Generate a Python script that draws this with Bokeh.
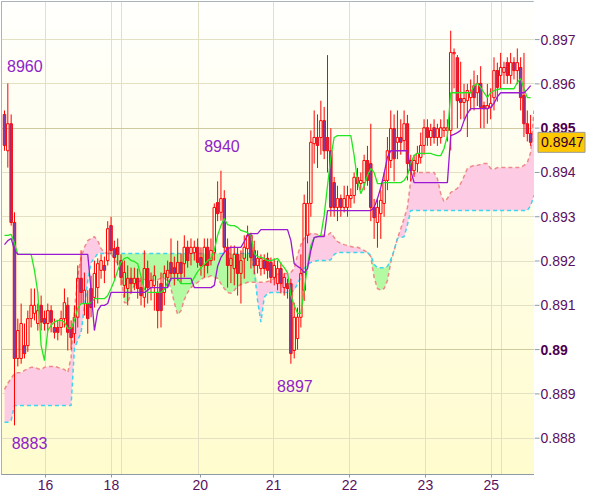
import numpy as np
from bokeh.plotting import figure
from bokeh.layouts import row
from bokeh.models import Range1d, FixedTicker, Grid, CustomJSTickFormatter
from bokeh.core.properties import value
from bokeh.embed import file_html
from bokeh.resources import INLINE

# ---------------- data (prices in 1e-5 units) ----------------
open_ = [
    89531, 89449, 89510, 89287, 88980, 88980, 89009, 89009, 89070, 89082,
    89059, 89100, 89070, 89059, 89088, 89050, 89050, 89050, 89070, 89100,
    89050, 89036, 89073, 89161, 89104, 89104, 89138, 89118, 89140, 89179,
    89190, 89201, 89280, 89228, 89231, 89201, 89145, 89138, 89161, 89149,
    89161, 89140, 89118, 89183, 89140, 89145, 89129, 89149, 89129, 89163,
    89197, 89185, 89172, 89197, 89194, 89231, 89217, 89219, 89231, 89208,
    89190, 89231, 89201, 89219, 89332, 89310, 89341, 89231, 89190, 89183,
    89215, 89172, 89206, 89228, 89258, 89224, 89190, 89183, 89201, 89206,
    89197, 89163, 89149, 89183, 89140, 89149, 89149, 88998, 89025, 89073,
    89134, 89258, 89330, 89465, 89479, 89479, 89517, 89479, 89449, 89377,
    89321, 89341, 89321, 89321, 89341, 89348, 89389, 89375, 89377, 89427,
    89420, 89321, 89287, 89307, 89330, 89382, 89427, 89499, 89468, 89479,
    89472, 89510, 89427, 89404, 89420, 89434, 89461, 89501, 89479, 89501,
    89479, 89479, 89495, 89495, 89495, 89668, 89659, 89567, 89558, 89562,
    89569, 89596, 89580, 89601, 89551, 89544, 89547, 89569, 89630, 89619,
    89626, 89648, 89619, 89648, 89630, 89637, 89574, 89510, 89488,
]
high = [
    89540, 89601, 89531, 89310, 89070, 89104, 89059, 89088, 89138, 89138,
    89104, 89122, 89088, 89104, 89100, 89070, 89066, 89088, 89138, 89118,
    89066, 89100, 89190, 89224, 89174, 89134, 89167, 89201, 89206, 89215,
    89210, 89290, 89300, 89246, 89251, 89215, 89201, 89190, 89185, 89185,
    89183, 89163, 89224, 89201, 89174, 89190, 89156, 89174, 89190, 89201,
    89251, 89210, 89246, 89217, 89258, 89246, 89251, 89246, 89251, 89231,
    89251, 89251, 89251, 89330, 89380, 89404, 89360, 89251, 89235, 89235,
    89231, 89224, 89258, 89280, 89264, 89246, 89224, 89215, 89215, 89219,
    89208, 89206, 89201, 89197, 89172, 89160, 89160, 89106, 89095, 89215,
    89350, 89380, 89495, 89540, 89531, 89562, 89548, 89665, 89500, 89390,
    89370, 89350, 89370, 89370, 89364, 89400, 89410, 89400, 89440, 89460,
    89510, 89340, 89340, 89360, 89400, 89480, 89540, 89531, 89540, 89520,
    89540, 89530, 89440, 89440, 89460, 89490, 89520, 89520, 89510, 89520,
    89510, 89520, 89540, 89520, 89720, 89680, 89665, 89650, 89600, 89600,
    89610, 89630, 89620, 89640, 89560, 89600, 89590, 89660, 89648, 89670,
    89650, 89660, 89670, 89660, 89680, 89660, 89670, 89540, 89530,
]
low = [
    89449, 89411, 89280, 88829, 88962, 88968, 88980, 88995, 89050, 89066,
    89043, 89043, 89043, 89043, 89039, 89025, 89021, 89032, 89050, 88998,
    89000, 89014, 89050, 89104, 89077, 89036, 89073, 89095, 89104, 89160,
    89150, 89190, 89215, 89160, 89190, 89145, 89118, 89100, 89127, 89134,
    89115, 89100, 89095, 89104, 89111, 89088, 89048, 89050, 89100, 89140,
    89156, 89145, 89156, 89149, 89163, 89185, 89190, 89201, 89185, 89167,
    89163, 89172, 89190, 89201, 89290, 89291, 89219, 89140, 89150, 89145,
    89122, 89104, 89160, 89200, 89183, 89170, 89172, 89167, 89170, 89160,
    89150, 89145, 89134, 89127, 89122, 89115, 88968, 88980, 89000, 89050,
    89110, 89240, 89300, 89420, 89410, 89440, 89430, 89400, 89300, 89300,
    89290, 89300, 89310, 89300, 89320, 89330, 89360, 89360, 89360, 89370,
    89290, 89250, 89230, 89250, 89300, 89360, 89410, 89380, 89430, 89440,
    89450, 89382, 89380, 89390, 89400, 89420, 89440, 89460, 89460, 89465,
    89460, 89465, 89480, 89470, 89450, 89590, 89500, 89520, 89520, 89480,
    89540, 89540, 89550, 89500, 89500, 89510, 89520, 89540, 89560, 89590,
    89600, 89600, 89600, 89610, 89600, 89540, 89480, 89470, 89460,
]
close = [
    89461, 89510, 89287, 88980, 89043, 89059, 88991, 89070, 89100, 89100,
    89088, 89062, 89059, 89088, 89062, 89039, 89039, 89070, 89106, 89039,
    89027, 89073, 89161, 89129, 89134, 89070, 89095, 89172, 89194, 89201,
    89179, 89273, 89224, 89208, 89215, 89163, 89174, 89161, 89149, 89161,
    89138, 89122, 89183, 89140, 89156, 89167, 89088, 89088, 89172, 89179,
    89172, 89172, 89197, 89172, 89231, 89201, 89231, 89231, 89197, 89190,
    89231, 89190, 89224, 89321, 89307, 89341, 89231, 89190, 89206, 89215,
    89172, 89201, 89231, 89258, 89208, 89190, 89206, 89206, 89183, 89179,
    89163, 89190, 89183, 89149, 89163, 89138, 88991, 89073, 89073, 89172,
    89330, 89330, 89468, 89479, 89461, 89517, 89449, 89449, 89321, 89321,
    89341, 89321, 89341, 89348, 89348, 89389, 89375, 89382, 89427, 89382,
    89321, 89298, 89321, 89337, 89382, 89449, 89499, 89431, 89479, 89468,
    89510, 89420, 89404, 89427, 89443, 89461, 89501, 89479, 89495, 89479,
    89499, 89501, 89501, 89501, 89671, 89671, 89562, 89558, 89567, 89585,
    89580, 89569, 89601, 89547, 89544, 89551, 89556, 89630, 89592, 89637,
    89637, 89619, 89648, 89630, 89648, 89569, 89510, 89488, 89468,
]
tenkan = [
    89258, 89258, 89260, 89240, 89215, 89215, 89215, 89215, 89215, 89179,
    89129, 89009, 88975, 89043, 89055, 89062, 89066, 89066, 89062, 89048,
    89048, 89066, 89093, 89104, 89104, 89104, 89106, 89115, 89115, 89115,
    89115, 89122, 89138, 89156, 89179, 89197, 89206, 89208, 89201, 89199,
    89194, 89165, 89136, 89129, 89129, 89129, 89129, 89129, 89136, 89152,
    89161, 89161, 89161, 89149, 89149, 89149, 89149, 89163, 89176, 89185,
    89192, 89201, 89206, 89224, 89258, 89280, 89296, 89282, 89280, 89280,
    89276, 89269, 89267, 89264, 89258, 89217, 89210, 89208, 89206, 89201,
    89201, 89203, 89206, 89194, 89185, 89174, 89122, 89100, 89082, 89082,
    89134, 89190, 89235, 89253, 89255, 89258, 89303, 89370, 89434, 89479,
    89483, 89483, 89483, 89483, 89483, 89438, 89382, 89352, 89370, 89393,
    89409, 89400, 89375, 89375, 89377, 89377, 89377, 89377, 89377, 89377,
    89382, 89393, 89420, 89438, 89443, 89443, 89443, 89443, 89443, 89440,
    89438, 89438, 89454, 89483, 89580, 89580, 89580, 89580, 89580, 89580,
    89580, 89596, 89601, 89592, 89580, 89569, 89580, 89585, 89587, 89589,
    89589, 89589, 89589, 89589, 89603, 89612, 89589, 89569, 89569,
]
kijun = [
    89237, 89246, 89251, 89224, 89215, 89215, 89215, 89215, 89215, 89215,
    89215, 89215, 89215, 89215, 89215, 89215, 89215, 89215, 89215, 89215,
    89215, 89215, 89215, 89215, 89215, 89215, 89134, 89043, 89088, 89100,
    89100, 89104, 89129, 89129, 89129, 89129, 89129, 89129, 89129, 89129,
    89129, 89129, 89129, 89134, 89140, 89140, 89140, 89140, 89140, 89140,
    89161, 89161, 89161, 89161, 89161, 89161, 89161, 89140, 89140, 89140,
    89140, 89140, 89140, 89145, 89188, 89208, 89219, 89228, 89231, 89231,
    89231, 89231, 89244, 89258, 89262, 89262, 89262, 89271, 89271, 89271,
    89271, 89271, 89271, 89271, 89271, 89271, 89246, 89194, 89188, 89183,
    89174, 89183, 89224, 89253, 89255, 89255, 89255, 89314, 89314, 89314,
    89314, 89314, 89314, 89314, 89314, 89314, 89314, 89314, 89314, 89314,
    89314, 89321, 89341, 89366, 89398, 89434, 89449, 89449, 89449, 89449,
    89449, 89449, 89404, 89377, 89377, 89377, 89377, 89377, 89377, 89377,
    89377, 89377, 89377, 89377, 89483, 89486, 89490, 89495, 89517, 89533,
    89544, 89544, 89544, 89544, 89544, 89544, 89547, 89556, 89571, 89580,
    89580, 89580, 89580, 89580, 89580, 89580, 89580, 89587, 89596,
]
span_a = [
    88910, 88924, 88935, 88946, 88948, 88948, 88953, 88957, 88960, 88960,
    88957, 88955, 88960, 88962, 88962, 88962, 88960, 88957, 88955, 88948,
    88982, 89088, 89167, 89208, 89231, 89246, 89251, 89255, 89246, 89228,
    89219, 89217, 89215, 89206, 89194, 89174, 89106, 89106, 89129, 89145,
    89152, 89156, 89158, 89161, 89158, 89156, 89158, 89161, 89161, 89156,
    89138, 89106, 89079, 89088, 89113, 89129, 89140, 89147, 89152, 89158,
    89163, 89163, 89167, 89163, 89161, 89149, 89138, 89129, 89127, 89134,
    89143, 89147, 89149, 89152, 89152, 89152, 89152, 89152, 89152, 89154,
    89156, 89161, 89170, 89172, 89172, 89172, 89174, 89183, 89213, 89237,
    89251, 89258, 89262, 89262, 89260, 89258, 89258, 89258, 89264, 89253,
    89244, 89240, 89237, 89235, 89233, 89231, 89231, 89228, 89224, 89219,
    89210, 89163, 89138, 89134, 89138, 89156, 89197, 89224, 89251, 89273,
    89296, 89321, 89382, 89398, 89400, 89400, 89400, 89400, 89400, 89400,
    89386, 89352, 89334, 89341, 89355, 89359, 89364, 89375, 89391, 89409,
    89413, 89416, 89416, 89418, 89420, 89420, 89409, 89407, 89411, 89411,
    89411, 89411, 89411, 89411, 89411, 89411, 89416, 89422, 89445, 89540,
]
span_b = [
    88836, 88836, 88840, 88874, 88874, 88874, 88874, 88874, 88874, 88874,
    88874, 88874, 88874, 88874, 88874, 88874, 88874, 88874, 88874, 88874,
    88874, 89003, 89021, 89039, 89097, 89156, 89197, 89206, 89217, 89217,
    89217, 89217, 89217, 89217, 89217, 89217, 89217, 89217, 89217, 89217,
    89217, 89217, 89217, 89217, 89217, 89217, 89217, 89217, 89217, 89217,
    89217, 89217, 89217, 89217, 89217, 89217, 89217, 89217, 89217, 89217,
    89217, 89217, 89217, 89217, 89217, 89217, 89217, 89217, 89217, 89217,
    89217, 89217, 89217, 89217, 89217, 89179, 89111, 89062, 89118, 89127,
    89129, 89129, 89129, 89129, 89129, 89129, 89129, 89134, 89149, 89163,
    89183, 89192, 89197, 89199, 89201, 89201, 89201, 89201, 89203, 89215,
    89219, 89219, 89219, 89219, 89219, 89219, 89219, 89219, 89219, 89219,
    89213, 89192, 89185, 89185, 89185, 89188, 89203, 89224, 89251, 89253,
    89255, 89282, 89314, 89314, 89314, 89314, 89314, 89314, 89314, 89314,
    89314, 89314, 89314, 89314, 89314, 89314, 89314, 89314, 89314, 89314,
    89314, 89314, 89314, 89314, 89314, 89314, 89314, 89314, 89314, 89314,
    89314, 89314, 89314, 89314, 89314, 89314, 89314, 89314, 89325, 89348,
]

# x-axis (bar index) day ticks and labels
day_tick_pos = [12.3, 32.1, 58.8, 80.8, 103.6, 126.4, 146.2]
day_labels = ["16", "18", "20", "21", "22", "23", "25"]
day_grid_pos = [12.3, 32.1, 35.1, 58.3, 80.8, 103.6, 126.4, 146.2, 149.2]

price_ticks = [0.888, 0.889, 0.890, 0.891, 0.892, 0.893, 0.894, 0.895, 0.896, 0.897]
bold_ticks = [0.895, 0.89]

# extremes annotated on the chart (bar index, which side)
extreme_bars = [1, 65, 86, 3]
extreme_side = ["high", "high", "low", "low"]

# ---------------- preparation ----------------
for nm, arr in [("high", high), ("low", low), ("close", close), ("tenkan", tenkan), ("kijun", kijun)]:
    if len(arr) != len(open_):
        raise SystemExit(f"length mismatch {nm}: {len(arr)} vs {len(open_)}")
if len(span_a) != len(span_b):
    raise SystemExit(f"span mismatch {len(span_a)} {len(span_b)}")

U = 1e5
o = np.array(open_) / U
h = np.array(high) / U
l = np.array(low) / U
c = np.array(close) / U
tk = np.array(tenkan) / U
kj = np.array(kijun) / U
sa = np.array(span_a) / U
sb = np.array(span_b) / U
x = np.arange(len(o))
xc = np.arange(len(sa))

X0, X1 = -0.9, 159.16
Y0, Y1 = 0.88718, 0.89786

FONT = "Liberation Sans"
AXIS_COL = "#8E9AA6"
LABEL_COL = "#5A1060"
FRAME_H = 473

# ---------------- main chart ----------------
p = figure(frame_width=533, frame_height=FRAME_H,
           x_range=Range1d(X0, X1), y_range=Range1d(Y0, Y1),
           output_backend="svg", toolbar_location=None,
           y_axis_location=None,
           min_border_left=1, min_border_top=1,
           min_border_right=0, min_border_bottom=23)
p.background_fill_color = "#FFFFF0"
p.border_fill_color = "white"
p.outline_line_color = AXIS_COL

# vertical gradient background (white at top -> pale yellow at bottom)
rows = 120
t = np.linspace(0.0, 1.0, rows)  # bottom -> top
img = np.empty((rows, 1), dtype=np.uint32)
v = img.view(dtype=np.uint8).reshape((rows, 1, 4))
v[:, 0, 0] = 255
v[:, 0, 1] = np.round(252 + 3 * t).astype(np.uint8)
v[:, 0, 2] = np.round(206 + 47 * t).astype(np.uint8)
v[:, 0, 3] = 255
p.image_rgba(image=[img], x=X0, y=Y0, dw=X1 - X0, dh=Y1 - Y0, level="image")

# grids
p.xgrid.ticker = FixedTicker(ticks=day_grid_pos)
p.xgrid.grid_line_color = "#E3E0C4"
p.ygrid.visible = False
p.add_layout(Grid(dimension=1, ticker=FixedTicker(ticks=price_ticks),
                  grid_line_color="#E3E0C4", grid_line_width=1))
p.add_layout(Grid(dimension=1, ticker=FixedTicker(ticks=bold_ticks),
                  grid_line_color="#CFCAA0", grid_line_width=1))

# cloud
top_ab = np.maximum(sa, sb)
p.varea(x=xc, y1=sb, y2=top_ab, fill_color="#FDCCE4")
p.varea(x=xc, y1=sa, y2=top_ab, fill_color="#B4FAA2")
p.line(xc, sa, line_color="#F08A8A", line_dash="4 3", line_width=1.5)
p.line(xc, sb, line_color="#3CD6EE", line_dash="4 3", line_width=1.5)

# candles
body_top = np.maximum(o, c)
body_bot = np.minimum(o, c)
bull = c >= o
p.segment(x0=x, y0=h, x1=x, y1=body_top, line_color="#FF0000", line_width=1)
p.segment(x0=x, y0=body_bot, x1=x, y1=l, line_color="#FF0000", line_width=1)
p.vbar(x=x[bull], width=0.74, top=body_top[bull], bottom=body_bot[bull],
       fill_alpha=0, line_color="#FF0000", line_width=1)
p.vbar(x=x[~bull], width=0.74, top=body_top[~bull], bottom=body_bot[~bull],
       fill_color="#7B3FA8", line_color="#FF0000", line_width=1)

# tenkan / kijun
p.line(x, tk, line_color="#22E622", line_width=1.3)
p.line(x, kj, line_color="#9B19D2", line_width=1.3)

# extreme labels
ex_y = [h[i] if s == "high" else l[i] for i, s in zip(extreme_bars, extreme_side)]
ex_txt = [str(int(round(val * 1e4))) for val in ex_y]
p.text(x=extreme_bars, y=ex_y, text=ex_txt,
       x_offset=[17, 1, 4, 15], y_offset=[-17, -25, 22, 18],
       text_font=value(FONT), text_font_size="16px", text_color="#8E24C8",
       text_align="center", text_baseline="middle")

# x axis
xa = p.xaxis[0]
xa.ticker = FixedTicker(ticks=day_tick_pos)
xa.formatter = CustomJSTickFormatter(args=dict(pos=day_tick_pos, lab=day_labels), code="""
    for (let i = 0; i < pos.length; i++) {
        if (Math.abs(pos[i] - tick) < 1e-6) { return lab[i]; }
    }
    return "";
""")
xa.axis_line_color = AXIS_COL
xa.major_tick_line_color = AXIS_COL
xa.minor_tick_line_color = None
xa.major_tick_in = 0
xa.major_tick_out = 3
xa.major_label_text_color = LABEL_COL
xa.major_label_text_font = FONT
xa.major_label_text_font_size = "14px"
xa.major_label_standoff = 2

# ---------------- right price scale panel ----------------
q = figure(frame_width=66, frame_height=FRAME_H,
           x_range=Range1d(0, 66), y_range=p.y_range,
           output_backend="svg", toolbar_location=None,
           x_axis_location=None, y_axis_location=None,
           min_border_left=0, min_border_top=1,
           min_border_right=0, min_border_bottom=23)
q.outline_line_color = None
q.background_fill_color = "white"
q.border_fill_color = "white"
q.xgrid.visible = False
q.ygrid.visible = False

normal_ticks = [tv for tv in price_ticks if all(abs(tv - b) > 1e-9 for b in bold_ticks)]
q.segment(x0=0, y0=price_ticks, x1=5, y1=price_ticks, line_color=AXIS_COL, line_width=1)
q.text(x=6, y=normal_ticks, text=[f"{tv:.3f}" for tv in normal_ticks],
       text_font=value(FONT), text_font_size="14px", text_color=LABEL_COL,
       text_align="left", text_baseline="middle")
q.text(x=6, y=bold_ticks, text=[f"{tv:g}" for tv in bold_ticks],
       text_font=value(FONT), text_font_size="14px", text_font_style="bold",
       text_color="#4A0050", text_align="left", text_baseline="middle")

# current price box
q.rect(x=27, y=c[-1], width=47, height=20, height_units="screen",
       fill_color="#FFC800", line_color="#9A9A9A", line_width=1)
q.text(x=6.5, y=c[-1], text=[f"{c[-1]:.4f}"],
       text_font=value(FONT), text_font_size="14px", text_color="#2A0030",
       text_align="left", text_baseline="middle")

layout = row(p, q)
open("out.html", "w").write(file_html(layout, INLINE))
